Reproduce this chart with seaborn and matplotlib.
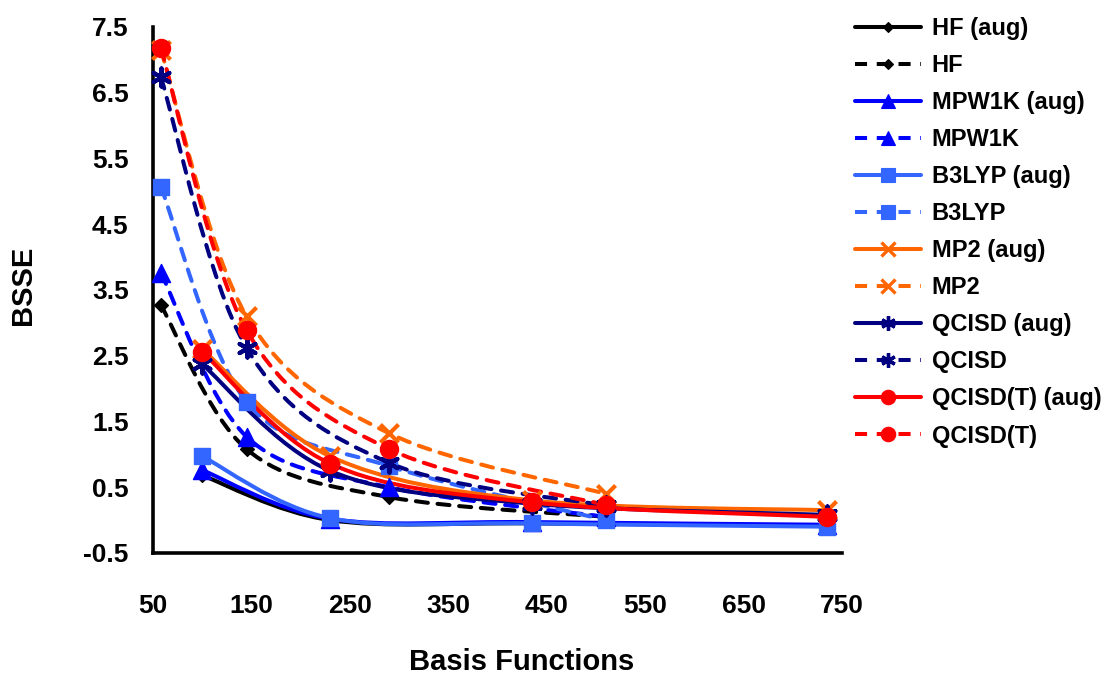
import numpy as np
import matplotlib
matplotlib.use("Agg")
import matplotlib.pyplot as plt
import seaborn as sns
from matplotlib.path import Path
from matplotlib.patches import PathPatch
from matplotlib.lines import Line2D

# basis function counts
x_plain = [58, 145, 290, 510]
x_aug = [100, 230, 435, 735]

# BSSE values
hf_aug = [0.68, 0.0, -0.05, -0.08]
hf = [3.27, 1.08, 0.35, 0.05]
mpw1k_aug = [0.76, 0.02, -0.03, -0.07]
mpw1k = [3.76, 1.27, 0.50, 0.05]
b3lyp_aug = [0.97, 0.03, -0.05, -0.10]
b3lyp = [5.07, 1.80, 0.82, 0.0]
mp2_aug = [2.60, 0.97, 0.30, 0.15]
mp2 = [7.15, 3.10, 1.32, 0.40]
qcisd_aug = [2.37, 0.75, 0.25, 0.08]
qcisd = [6.74, 2.62, 0.87, 0.22]
qcisdt_aug = [2.56, 0.86, 0.27, 0.05]
qcisdt = [7.18, 2.89, 1.08, 0.23]

labels = ["HF (aug)", "HF", "MPW1K (aug)", "MPW1K", "B3LYP (aug)", "B3LYP",
          "MP2 (aug)", "MP2", "QCISD (aug)", "QCISD", "QCISD(T) (aug)", "QCISD(T)"]
series = [hf_aug, hf, mpw1k_aug, mpw1k, b3lyp_aug, b3lyp,
          mp2_aug, mp2, qcisd_aug, qcisd, qcisdt_aug, qcisdt]

colors = {"HF": "#000000", "MPW1K": "#0000FF", "B3LYP": "#3366FF",
          "MP2": "#FF6600", "QCISD": "#000080", "QCISD(T)": "#FF0000"}
markers = {"HF": ("D", 7, 1), "MPW1K": ("^", 13, 1), "B3LYP": ("s", 12, 1),
           "MP2": ("x", 13, 3), "QCISD": ((6, 2, 0), 13, 3), "QCISD(T)": ("o", 13, 1)}

LW = 2.9
DASH = (0, (3.0, 2.4))


def smooth_path(xs, ys):
    """Excel-style smoothed line as cubic Bezier segments (Catmull-Rom control points)."""
    p = np.column_stack([xs, ys]).astype(float)
    n = len(p)
    verts = [p[0]]
    codes = [Path.MOVETO]
    for i in range(n - 1):
        p0 = p[i - 1] if i > 0 else p[i]
        p3 = p[i + 2] if i + 2 < n else p[i + 1]
        c1 = p[i] + (p[i + 1] - p0) / 6
        c2 = p[i + 1] - (p3 - p[i]) / 6
        verts += [c1, c2, p[i + 1]]
        codes += [Path.CURVE4] * 3
    return Path(verts, codes)


sns.set_style("white")
plt.rcParams["font.family"] = ["Liberation Sans", "DejaVu Sans"]
plt.rcParams["font.weight"] = "bold"
for key in ["text.color", "axes.labelcolor", "xtick.color", "ytick.color"]:
    plt.rcParams[key] = "black"

fig = plt.figure(figsize=(11.05, 6.77), dpi=100)
ax = fig.add_axes([153 / 1105, 1 - 553 / 677, 689 / 1105, 526 / 677])

handles = []
for lab, ys in zip(labels, series):
    method = lab.replace(" (aug)", "")
    aug = "(aug)" in lab
    xs = x_aug if aug else x_plain
    c = colors[method]
    m, ms, mew = markers[method]
    ls = "-" if aug else DASH
    patch = PathPatch(smooth_path(xs, ys), facecolor="none", edgecolor=c, lw=LW,
                      linestyle=ls, capstyle="butt" if aug else "round", zorder=2)
    ax.add_patch(patch)
    unfilled = m == "x" or isinstance(m, tuple)
    sns.scatterplot(x=xs, y=ys, ax=ax, marker=m, s=ms ** 2, color=c,
                    linewidth=mew, edgecolor=None if unfilled else c,
                    zorder=3, clip_on=False, legend=False)
    handles.append(Line2D([], [], color=c, lw=LW, linestyle=ls, marker=m,
                          markersize=ms * 0.8, markeredgewidth=mew * 0.8, markeredgecolor=c))

ax.set_xlim(50, 750)
ax.set_ylim(-0.5, 7.5)
ax.set_xticks(np.arange(50, 751, 100))
ax.set_xticks(np.arange(100, 701, 100), minor=True)
ax.set_yticks(np.arange(-0.5, 7.6, 1.0))
ax.set_yticks(np.arange(0, 7.1, 1.0), minor=True)
ax.set_yticklabels([f"{v:.1f}" for v in np.arange(-0.5, 7.6, 1.0)])
ax.set_xticklabels([str(v) for v in range(50, 751, 100)])

for side in ["top", "right"]:
    ax.spines[side].set_visible(False)
for side in ["left", "bottom"]:
    ax.spines[side].set_linewidth(2.6)
    ax.spines[side].set_color("black")

ax.tick_params(axis="both", which="major", direction="inout", length=13, width=2.6,
               labelsize=19, color="black", labelcolor="black")
ax.tick_params(axis="both", which="minor", direction="inout", length=9, width=2.6, color="black")
ax.tick_params(axis="y", which="major", pad=11)
ax.tick_params(axis="x", which="major", pad=23)

fig.text(522 / 1105, 1 - 662 / 677, "Basis Functions", ha="center", va="center",
         fontsize=21, fontweight="bold", color="black")
fig.text(23 / 1105, 1 - 285 / 677, "BSSE", ha="center", va="center", rotation=90,
         fontsize=21, fontweight="bold", color="black")

fig.legend(handles, labels, loc="upper left", bbox_to_anchor=(855 / 1105, 1 - 17 / 677),
           frameon=False, fontsize=17, handlelength=2.8, handletextpad=0.45,
           labelspacing=0.595, borderpad=0, borderaxespad=0, labelcolor="black")

fig.savefig("out.png", dpi=100)
